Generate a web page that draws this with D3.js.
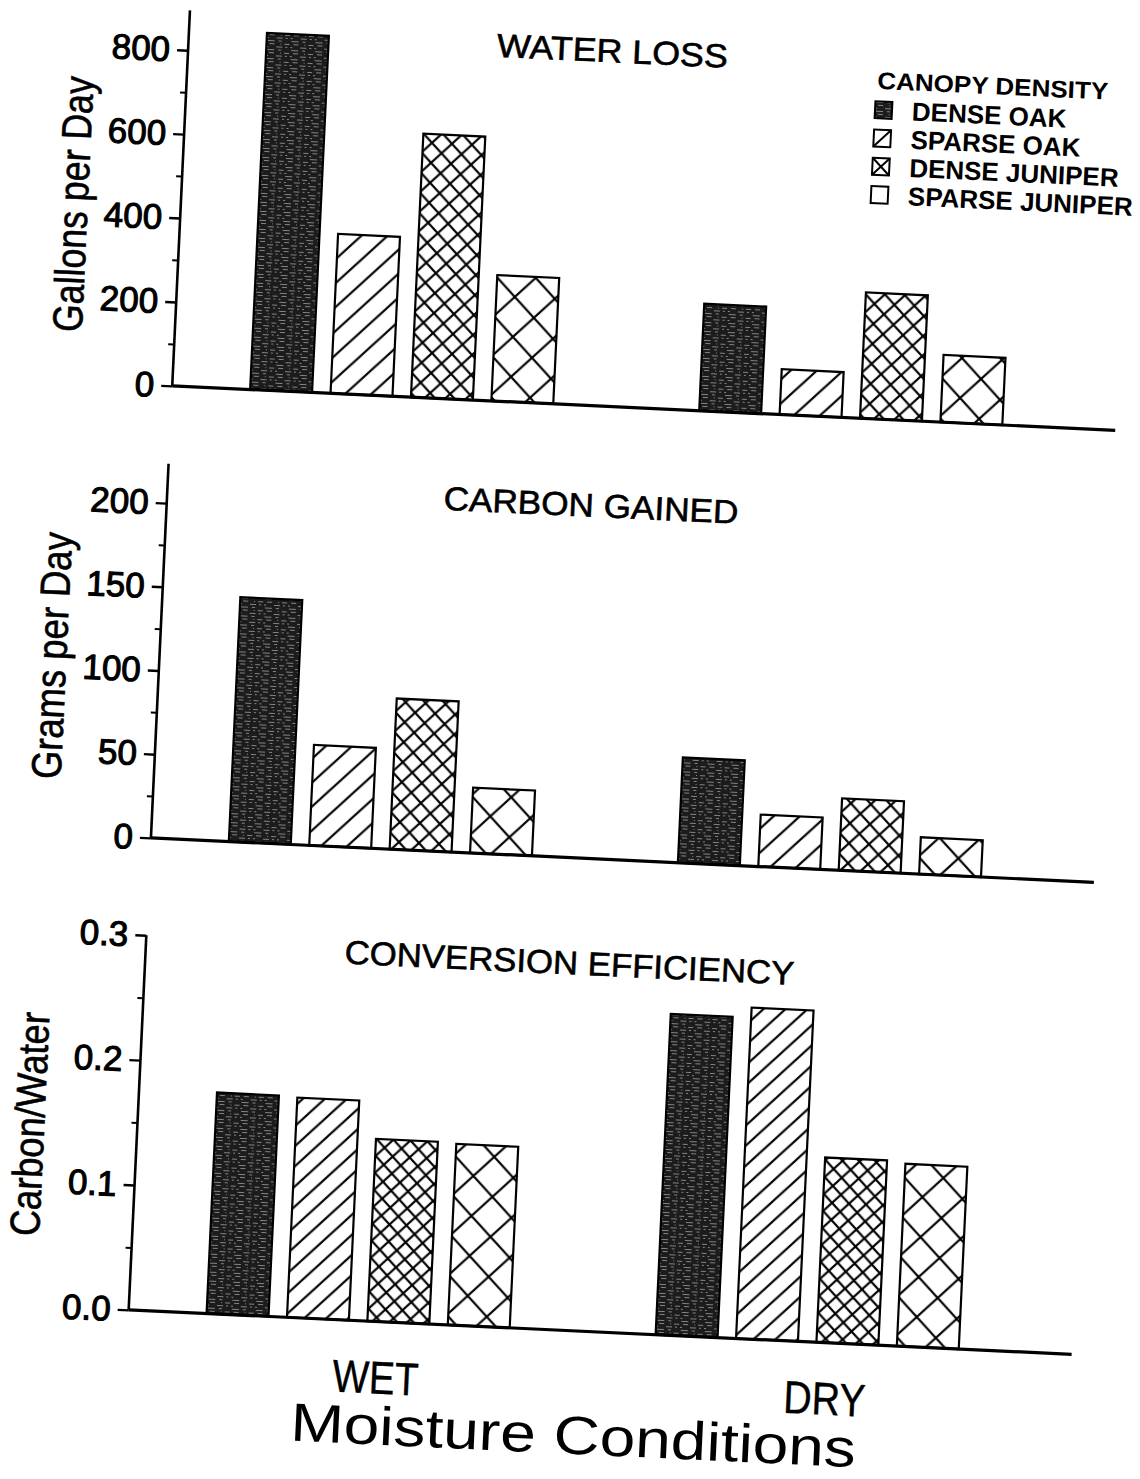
<!DOCTYPE html>
<html>
<head>
<meta charset="utf-8">
<script src="https://cdn.jsdelivr.net/npm/d3@7"></script>
<style>
  body { margin: 0; background: #fff; }
  text { font-family: "Liberation Sans", Arial, Helvetica, sans-serif; fill: #000; }
</style>
</head>
<body>
<div id="chart"></div>
<script>
// data
var groups = ["WET", "DRY"]
var canopy = ["DENSE OAK", "SPARSE OAK", "DENSE JUNIPER", "SPARSE JUNIPER"]

var waterWet = [850, 380, 628, 300]
var waterDry = [255, 108, 300, 160]
var carbonWet = [146, 60, 90, 39]
var carbonDry = [63, 31, 43, 22]
var effWet = [0.177, 0.176, 0.146, 0.145]
var effDry = [0.257, 0.265, 0.148, 0.146]

var waterTicks = [0, 200, 400, 600, 800]
var waterMinor = [100, 300, 500, 700]
var carbonTicks = [0, 50, 100, 150, 200]
var carbonMinor = [25, 75, 125, 175]
var effTicks = [0, 0.1, 0.2, 0.3]
var effMinor = [0.05, 0.15, 0.25]

var width = 1140, height = 1479

var svg = d3.select("#chart")
  .append("svg")
  .attr("width", width)
  .attr("height", height)

// patterns for the four canopy classes
var defs = svg.append("defs")

var oak = defs.append("pattern")
  .attr("id", "p0")
  .attr("patternUnits", "userSpaceOnUse")
  .attr("width", 24).attr("height", 9)
oak.append("rect").attr("width", 24).attr("height", 9).attr("fill", "#1c1c1c")
oak.append("path")
  .attr("d", "M1,1.5h7M12,1.5h3M18,4.5h5M3,4.5h5M10,7.5h6M19,7.5h2M0,7.5h2M14,4.5h1")
  .attr("stroke", "#d8d8d8").attr("stroke-width", 1).attr("opacity", 0.55)

function hatch(id, s, both) {
  var p = defs.append("pattern")
    .attr("id", id)
    .attr("patternUnits", "userSpaceOnUse")
    .attr("width", s).attr("height", s)
  p.append("rect").attr("width", s).attr("height", s).attr("fill", "#fff")
  var d = "M" + (-s / 2) + "," + (s / 2) + "l" + s + "," + (-s) +
    "M0," + s + "l" + s + "," + (-s) +
    "M" + (s / 2) + "," + (3 * s / 2) + "l" + s + "," + (-s)
  if (both) {
    d += "M" + (-s / 2) + "," + (s / 2) + "l" + s + "," + s +
      "M0,0l" + s + "," + s +
      "M" + (s / 2) + "," + (-s / 2) + "l" + s + "," + s
  }
  p.append("path").attr("d", d)
    .attr("stroke", "#000").attr("stroke-width", 2.2)
    .attr("fill", "none")
}
hatch("p1", 25, false)
hatch("p2", 20, true)
hatch("p3", 40, true)
hatch("p1b", 21, false)
hatch("p2b", 17, true)

// the scan is tilted, so everything sits in one rotated group
var g = svg.append("g")
  .attr("transform", "rotate(2.7,570,740)")

var x0 = d3.scaleBand()
  .domain(groups)
  .range([234, 987])
  .paddingInner(0.325)

var x1 = d3.scaleBand()
  .domain(canopy)
  .range([0, x0.bandwidth()])
  .paddingInner(0.23)

var panels = [
  { title: "WATER LOSS", label: "Gallons per Day", wet: waterWet, dry: waterDry,
    ticks: waterTicks, minor: waterMinor, fmt: d3.format("d"),
    domain: [0, 800], range: [405, 69], top: 895,
    titleY: 61, titleLen: 231, labelY: 228, labelLen: 256, fills: ["p0", "p1", "p2", "p3"] },
  { title: "CARBON GAINED", label: "Grams per Day", wet: carbonWet, dry: carbonDry,
    ticks: carbonTicks, minor: carbonMinor, fmt: d3.format("d"),
    domain: [0, 200], range: [857.5, 522.4], top: 223.5,
    titleY: 516, titleLen: 295, labelY: 680, labelLen: 247, fills: ["p0", "p1", "p2", "p3"] },
  { title: "CONVERSION EFFICIENCY", label: "Carbon/Water", wet: effWet, dry: effDry,
    ticks: effTicks, minor: effMinor, fmt: d3.format(".1f"),
    domain: [0, 0.3], range: [1330, 955], top: 0.3,
    titleY: 974, titleLen: 450, labelY: 1149, labelLen: 224, fills: ["p0", "p1b", "p2b", "p3"] }
]

var axisX = 156

panels.forEach(function (pn) {
  var y = d3.scaleLinear().domain(pn.domain).range(pn.range)
  var pg = g.append("g")

  // bars
  var rows = groups.map(function (grp) {
    var vals = grp === "WET" ? pn.wet : pn.dry
    return canopy.map(function (c, i) { return { group: grp, key: c, i: i, value: vals[i] } })
  })
  pg.append("g")
    .selectAll("g")
    .data(rows)
    .enter()
    .append("g")
    .attr("transform", function (d) { return "translate(" + x0(d[0].group) + ",0)" })
    .selectAll("rect")
    .data(function (d) { return d })
    .enter()
    .append("rect")
    .attr("x", function (d) { return x1(d.key) })
    .attr("y", function (d) { return y(d.value) })
    .attr("width", x1.bandwidth())
    .attr("height", function (d) { return y(0) - y(d.value) })
    .attr("fill", function (d) { return "url(#" + pn.fills[d.i] + ")" })
    .attr("stroke", "#000")
    .attr("stroke-width", 2.2)

  // baseline
  pg.append("line")
    .attr("x1", axisX).attr("x2", 1100)
    .attr("y1", y(0)).attr("y2", y(0))
    .attr("stroke", "#000").attr("stroke-width", 3.2)

  // y axis line
  pg.append("line")
    .attr("x1", axisX).attr("x2", axisX)
    .attr("y1", y(0)).attr("y2", y(pn.top))
    .attr("stroke", "#000").attr("stroke-width", 2.6)

  var ax = pg.append("g")
    .attr("transform", "translate(" + axisX + ",0)")
    .call(d3.axisLeft(y).tickValues(pn.ticks).tickSize(11).tickPadding(7).tickFormat(pn.fmt))
  ax.select(".domain").remove()
  ax.selectAll("line").attr("stroke-width", 2.4)
  ax.selectAll("text")
    .style("font-family", "'Liberation Sans', Arial, sans-serif")
    .style("font-size", "35px")
    .attr("stroke", "#000").attr("stroke-width", 1.1)

  var mx = pg.append("g")
    .attr("transform", "translate(" + axisX + ",0)")
    .call(d3.axisLeft(y).tickValues(pn.minor).tickSize(6).tickFormat(""))
  mx.select(".domain").remove()
  mx.selectAll("line").attr("stroke-width", 2)

  // panel title
  pg.append("text")
    .attr("x", 580).attr("y", pn.titleY)
    .attr("text-anchor", "middle")
    .attr("textLength", pn.titleLen)
    .attr("lengthAdjust", "spacingAndGlyphs")
    .style("font-size", "33px")
    .attr("stroke", "#000").attr("stroke-width", 0.6)
    .text(pn.title)

  // y label
  pg.append("text")
    .attr("transform", "translate(63," + pn.labelY + ") rotate(-90)")
    .attr("text-anchor", "middle")
    .attr("textLength", pn.labelLen)
    .attr("lengthAdjust", "spacingAndGlyphs")
    .style("font-size", "42px")
    .attr("stroke", "#000").attr("stroke-width", 0.6)
    .text(pn.label)
})

// legend
var leg = g.append("g").attr("transform", "translate(845,0)")
leg.append("text")
  .attr("x", 1).attr("y", 75)
  .attr("textLength", 231).attr("lengthAdjust", "spacingAndGlyphs")
  .style("font-size", "24px").style("font-weight", "bold")
  .text("CANOPY DENSITY")

var legItems = leg.selectAll("g.item")
  .data(canopy)
  .enter()
  .append("g")
  .attr("class", "item")
  .attr("transform", function (d, i) { return "translate(0," + (96 + i * 28.3) + ")" })
legItems.append("rect")
  .attr("x", 0).attr("y", -8.5)
  .attr("width", 17).attr("height", 17)
  .attr("fill", function (d, i) { return i === 0 ? "url(#p0)" : "#fff" })
  .attr("stroke", "#000").attr("stroke-width", 2)
// small swatch marks: one stroke for sparse oak, a cross for dense juniper
legItems.filter(function (d, i) { return i === 1 || i === 2 })
  .append("path")
  .attr("d", function (d, i) {
    return i === 0 ? "M0,8.5L17,-8.5" : "M0,8.5L17,-8.5M0,-8.5L17,8.5"
  })
  .attr("stroke", "#000").attr("stroke-width", 2).attr("fill", "none")
legItems.append("text")
  .attr("x", 37).attr("y", 9)
  .style("font-size", "26px").style("font-weight", "bold")
  .text(function (d) { return d })

// category labels and x title
g.selectAll("text.cat")
  .data(groups)
  .enter()
  .append("text")
  .attr("class", "cat")
  .attr("x", function (d) { return x0(d) + x0.bandwidth() / 2 + 20 })
  .attr("y", 1402)
  .attr("text-anchor", "middle")
  .attr("textLength", function (d) { return d === "WET" ? 86 : 82 })
  .attr("lengthAdjust", "spacingAndGlyphs")
  .style("font-size", "46px")
  .attr("stroke", "#000").attr("stroke-width", 0.4)
  .text(function (d) { return d })

g.append("text")
  .attr("x", 606).attr("y", 1453)
  .attr("text-anchor", "middle")
  .attr("textLength", 566)
  .attr("lengthAdjust", "spacingAndGlyphs")
  .style("font-size", "54px")
  .text("Moisture Conditions")
</script>
</body>
</html>
